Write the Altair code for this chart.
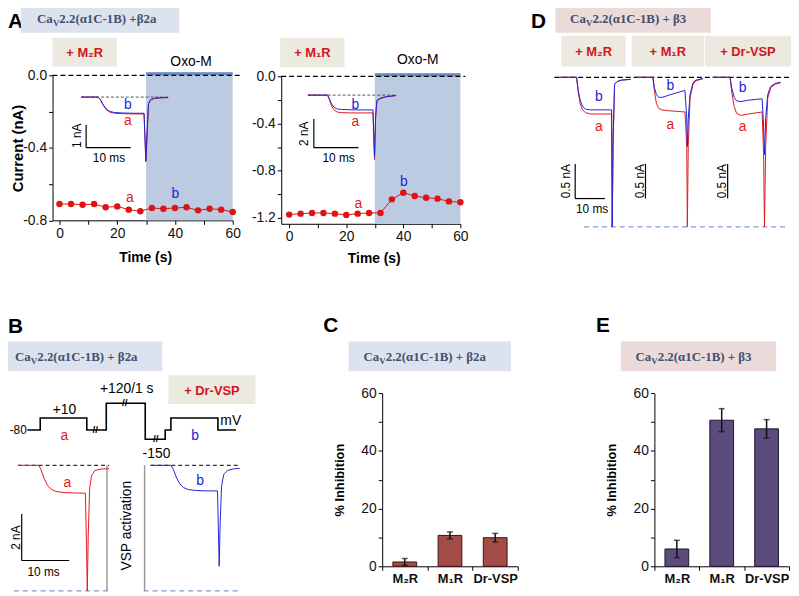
import altair as alt
import pandas as pd

# ---------------- data ----------------
# Panel A: peak current (nA) every 4 s; Oxo-M applied from 30 s to 60 s
time_s = [0, 4, 8, 12, 16, 20, 24, 28, 32, 36, 40, 44, 48, 52, 56, 60]
cur_m2r = [-0.710, -0.710, -0.714, -0.710, -0.728, -0.723, -0.741, -0.750,
           -0.732, -0.736, -0.732, -0.728, -0.745, -0.736, -0.741, -0.754]
cur_m1r = [-1.172, -1.164, -1.158, -1.158, -1.164, -1.175, -1.164, -1.158,
           -1.158, -1.043, -0.987, -1.015, -1.029, -1.037, -1.060, -1.068]
oxo_window = [30, 60]

# Panel A insets: current traces (ms, nA)
insL_t = [0, 3.8, 4.3, 4.9, 5.6, 6.4, 7.5, 9.5, 12, 14.1, 14.3, 14.5, 14.8, 15.1, 15.6, 16.5, 18, 19.5]
insL_a = [0, 0, -0.12, -0.35, -0.55, -0.66, -0.71, -0.73, -0.74, -0.74, -1.8, -2.85, -1.6, -0.3, -0.12, -0.05, -0.03, -0.02]
insL_b = [0, 0, -0.11, -0.33, -0.52, -0.63, -0.68, -0.70, -0.71, -0.71, -1.7, -2.80, -1.5, -0.28, -0.11, -0.05, -0.03, -0.02]
insR_t = [0, 4.4, 4.8, 5.3, 5.9, 6.6, 7.5, 9.5, 12, 14.6, 14.8, 14.95, 15.2, 15.5, 16.2, 17.5, 19.8]
insR_a = [0, 0, -0.30, -0.75, -1.05, -1.18, -1.22, -1.24, -1.24, -1.24, -3.2, -4.50, -1.5, -0.40, -0.25, -0.12, -0.03]
insR_b = [0, 0, -0.25, -0.62, -0.86, -0.97, -1.00, -1.02, -1.03, -1.03, -3.0, -4.30, -1.4, -0.36, -0.22, -0.11, -0.03]

# Panel B: voltage protocol (schematic ms, mV) and traces (ms, nA)
protocol_t = [2.0, 4.7, 4.7, 14.5, 14.5, 18.6, 18.6, 26.8, 26.8, 31.0, 31.0, 32.2, 32.2, 42.1, 42.1, 45.9]
protocol_mv = [-80, -80, 10, 10, -80, -80, 120, 120, -150, -150, -80, -80, 10, 10, -80, -80]
break_t = [16.3, 22.5, 29.0]
break_mv = [-80, 120, -150]
trB_ta = [0, 4.4, 4.9, 5.5, 6.2, 7.0, 8.0, 9.5, 12, 14.2, 14.45, 14.6, 14.8, 15.1, 15.5, 16.2, 17.5, 19.2]
trB_a = [0, 0, -0.2, -0.55, -0.85, -1.03, -1.12, -1.17, -1.19, -1.2, -3.5, -5.4, -3.0, -1.0, -0.45, -0.22, -0.16, -0.14]
trB_tb = [0, 4.3, 4.8, 5.4, 6.1, 6.9, 7.9, 9.5, 12, 14.1, 14.3, 14.45, 14.65, 14.95, 15.4, 16.2, 17.5, 18.75]
trB_b = [0, 0, -0.18, -0.5, -0.78, -0.95, -1.04, -1.08, -1.1, -1.1, -3.0, -4.34, -2.5, -0.9, -0.4, -0.22, -0.15, -0.13]
clip_B = -5.4

# Panel D traces (ms, nA)
trD1_t = [0, 5.8, 6.3, 7.0, 7.8, 8.8, 10.5, 13, 17.6, 17.8, 18.1, 18.6, 19.5, 21, 24]
trD1_a = [0, 0, -0.2, -0.38, -0.47, -0.51, -0.53, -0.53, -0.53, -2.16, -0.9, -0.1, -0.06, -0.04, -0.03]
trD1_b = [0, 0, -0.17, -0.33, -0.42, -0.46, -0.47, -0.47, -0.47, -2.16, -0.9, -0.1, -0.06, -0.04, -0.03]
trD2_t = [0, 5.5, 6.0, 6.7, 7.5, 8.5, 10, 13, 16.3, 16.9, 17.1, 17.4, 18, 19, 20, 22.3]
trD2_a = [0, 0, -0.2, -0.38, -0.45, -0.47, -0.48, -0.49, -0.5, -1.0, -2.16, -1.0, -0.3, -0.1, -0.05, -0.02]
trD2_b = [0, 0, -0.15, -0.25, -0.29, -0.29, -0.27, -0.23, -0.19, -0.6, -1.0, -0.6, -0.25, -0.08, -0.04, -0.02]
trD3_t = [0, 5.8, 6.4, 7.2, 8.0, 9.5, 12, 16.6, 17.1, 17.4, 17.8, 18.5, 19.5, 21, 22.8]
trD3_a = [0, 0, -0.22, -0.42, -0.52, -0.55, -0.53, -0.5, -1.1, -2.16, -1.0, -0.3, -0.15, -0.1, -0.08]
trD3_b = [0, 0, -0.16, -0.29, -0.34, -0.35, -0.33, -0.31, -0.7, -1.12, -0.6, -0.25, -0.13, -0.09, -0.07]
clip_D = -2.16

# Panels C and E: % inhibition (mean, error)
receptors = ["M\u2082R", "M\u2081R", "Dr-VSP"]
inhib_b2a = [1.5, 10.7, 9.9]
err_b2a = [1.2, 1.2, 1.5]
inhib_b3 = [6.0, 50.6, 47.6]
err_b3 = [3.0, 4.0, 3.2]

# ---------------- layout helpers ----------------
OFF = 8
W, H = 791, 588
SANS = "Liberation Sans, Arial, Helvetica, DejaVu Sans, sans-serif"
SERIF = "Liberation Serif, Times New Roman, DejaVu Serif, serif"
RED = "#e3191f"
BLUE = "#2222d6"
DOT = "#dd1414"
HDR_BLUE = "#dce3ee"
HDR_PINK = "#eadada"
BEIGE = "#ece9e1"
HDR_TXT = "#45506e"
BOX_TXT = "#d0151b"
SHADE = "#bccae2"
SHADE_TOP = "#6a8cc0"
DASH_BLUE = "#7f9fcc"

layers = []


def X(v):
    return v - OFF


def Y(v):
    return v - OFF


def lin(d0, d1, p0, p1, axis="x"):
    f = X if axis == "x" else Y
    return alt.Scale(domain=[d0, d1], range=[f(p0), f(p1)], zero=False, nice=False)


def text(s, x, y, size=14, color="black", weight="normal", font=SANS,
         align="center", baseline="middle", angle=0):
    layers.append(alt.Chart(pd.DataFrame({"s": [s]})).mark_text(
        fontSize=size, color=color, fontWeight=weight, font=font, align=align,
        baseline=baseline, angle=angle).encode(
        x=alt.value(X(x)), y=alt.value(Y(y)), text="s:N"))


def letter(s, x, ybase, align="center"):
    text(s, x, ybase, size=21, weight="bold", align=align, baseline="alphabetic")


def box(x0, y0, x1, y1, color):
    layers.append(alt.Chart(pd.DataFrame({"k": [0]})).mark_rect(color=color).encode(
        x=alt.value(X(x0)), x2=alt.value(X(x1)), y=alt.value(Y(y0)), y2=alt.value(Y(y1))))


def label_box(x0, y0, x1, y1, s):
    box(x0, y0, x1, y1, BEIGE)
    text(s, (x0 + x1) / 2, (y0 + y1) / 2 + 1, size=13, color=BOX_TXT, weight="bold")


def header(x0, x1, ytop, rest, bg):
    box(x0, ytop, x1, ytop + 30, bg)
    w_ca, w_v = 16.0, 6.5
    w_rest = 6.55 * len(rest)
    start = (x0 + x1) / 2 - (w_ca + w_v + w_rest) / 2
    kw = dict(color=HDR_TXT, weight="bold", font=SERIF, align="left", baseline="alphabetic")
    text("Ca", start, ytop + 20, size=13, **kw)
    text("V", start + w_ca, ytop + 23, size=9, **kw)
    text(rest, start + w_ca + w_v, ytop + 20, size=13, **kw)


def line(t, v, xsc, ysc, color, width=1.0):
    df = pd.DataFrame({"t": t, "v": v, "o": list(range(len(t)))})
    layers.append(alt.Chart(df).mark_line(color=color, strokeWidth=width).encode(
        x=alt.X("t:Q", scale=xsc, axis=None), y=alt.Y("v:Q", scale=ysc, axis=None),
        order="o:Q"))


def segs(rows, xsc, ysc, color="black", width=1.0, dash=None):
    df = pd.DataFrame(rows, columns=["x", "x2", "y", "y2"])
    kw = dict(color=color, strokeWidth=width)
    if dash:
        kw["strokeDash"] = dash
    layers.append(alt.Chart(df).mark_rule(**kw).encode(
        x=alt.X("x:Q", scale=xsc, axis=None), x2="x2:Q",
        y=alt.Y("y:Q", scale=ysc, axis=None), y2="y2:Q"))


def hdash(ysc, x0, x1, value=0.0, color="black", dash=(5, 3), width=1.2):
    df = pd.DataFrame({"v": [value]})
    layers.append(alt.Chart(df).mark_rule(color=color, strokeDash=list(dash), strokeWidth=width).encode(
        x=alt.value(X(x0)), x2=alt.value(X(x1)), y=alt.Y("v:Q", scale=ysc, axis=None)))


def vrule(x, y0, y1, color="#9a9a9a", width=1.5):
    layers.append(alt.Chart(pd.DataFrame({"k": [0]})).mark_rule(color=color, strokeWidth=width).encode(
        x=alt.value(X(x)), y=alt.value(Y(y0)), y2=alt.value(Y(y1))))


def scalebar(xsc, ysc, t0, i0, dt, di, width=1.2):
    rows = [[t0, t0, i0, i0 + di]]
    if dt:
        rows.append([t0, t0 + dt, i0, i0])
    segs(rows, xsc, ysc, width=width)


def xaxis(ypix, values, every):
    return alt.Axis(orient="bottom", offset=Y(ypix) - H, values=values,
                    labelExpr=f"datum.value % {every} == 0 ? datum.label : ''", title=None)


def yaxis_nA(xpix, values, majors):
    maj = ",".join(str(round(m * 10)) for m in majors)
    expr = (f"indexof([{maj}], round(datum.value * 10)) >= 0 ? "
            "(datum.value == 0 ? '0.0' : '-' + format(abs(datum.value), '.1f')) : ''")
    return alt.Axis(orient="left", offset=-X(xpix), values=values, labelExpr=expr, title=None)


def shade(xsc, ysc, lo):
    df = pd.DataFrame({"start": [oxo_window[0]], "end": [oxo_window[1]], "lo": [lo], "hi": [0.0]})
    layers.append(alt.Chart(df).mark_rect(color=SHADE, y2Offset=-3).encode(
        x=alt.X("start:Q", scale=xsc, axis=None), x2="end:Q",
        y=alt.Y("lo:Q", scale=ysc, axis=None), y2="hi:Q"))
    layers.append(alt.Chart(df).mark_rect(color=SHADE_TOP, y2Offset=-3).encode(
        x=alt.X("start:Q", scale=xsc, axis=None), x2="end:Q",
        y=alt.Y("hi:Q", scale=ysc, axis=None), y2="hi:Q"))


def series(t, v, xsc, ysc, xax, yax):
    df = pd.DataFrame({"time": t, "current": v})
    layers.append(alt.Chart(df).mark_line(color=DOT, strokeWidth=1).encode(
        x=alt.X("time:Q", scale=xsc, axis=None), y=alt.Y("current:Q", scale=ysc, axis=None)))
    layers.append(alt.Chart(df).mark_circle(color=DOT, size=42, opacity=1).encode(
        x=alt.X("time:Q", scale=xsc, axis=xax), y=alt.Y("current:Q", scale=ysc, axis=yax)))


def bars(vals, errs, x0, x1, fill, stroke):
    df = pd.DataFrame({"rec": receptors, "val": vals, "base": [0] * len(vals),
                       "lo": [v - e for v, e in zip(vals, errs)],
                       "hi": [v + e for v, e in zip(vals, errs)]})
    xsc = alt.Scale(domain=receptors, range=[X(x0), X(x1)], paddingInner=0, paddingOuter=0)
    ysc = lin(0, 60, 569, 394, "y")
    xax = alt.Axis(orient="bottom", offset=Y(569) - H, tickBand="extent", labelFontWeight="bold",
                   labelFontSize=13, labelAngle=0, labelPadding=2, title=None)
    yax = alt.Axis(orient="left", offset=-X(x0), values=list(range(0, 61, 10)),
                   labelExpr="datum.value % 20 == 0 ? datum.label : ''", title=None)
    layers.append(alt.Chart(df).mark_bar(size=24, color=fill, stroke=stroke, strokeWidth=1).encode(
        x=alt.X("rec:N", scale=xsc, axis=xax), y=alt.Y("val:Q", scale=ysc, axis=yax), y2="base:Q"))
    layers.append(alt.Chart(df).mark_rule(color="#111", strokeWidth=1.5).encode(
        x=alt.X("rec:N", scale=xsc, axis=None), y=alt.Y("lo:Q", scale=ysc, axis=None), y2="hi:Q"))
    for f in ["lo", "hi"]:
        layers.append(alt.Chart(df).mark_tick(color="#111", size=6, thickness=1.5).encode(
            x=alt.X("rec:N", scale=xsc, axis=None), y=alt.Y(f + ":Q", scale=ysc, axis=None)))


# ---------------- Panel A ----------------
letter("A", 8, 25, align="left")
header(21, 181, 0, "2.2(\u03b11C-1B) +\u03b22a", HDR_BLUE)

# left: + M2R
label_box(53, 35, 118, 64, "+ M\u2082R")
xA1 = lin(-2.4, 60, 53, 235)
yA1 = lin(-0.8, 0, 219.5, 73, "y")
shade(xA1, yA1, -0.8)
hdash(yA1, 53, 245)
series(time_s, cur_m2r, xA1, yA1, xaxis(219.5, list(range(0, 61, 10)), 20),
       yaxis_nA(53, [-0.8, -0.6, -0.4, -0.2, 0.0], [-0.8, -0.4, 0.0]))
text("Oxo-M", 193, 60)
text("Time (s)", 147, 258, weight="bold")
text("Current (nA)", 18, 147, size=15, weight="bold", angle=270)
text("a", 131, 197, color=RED)
text("b", 177, 193, color=BLUE)
xIL = lin(0, 20, 82, 172)
yIL = lin(-3, 0, 164, 95, "y")
segs([[insL_t[0], insL_t[-1], 0, 0]], xIL, yIL, color="#555", dash=[3, 2])
line(insL_t, insL_a, xIL, yIL, RED)
line(insL_t, insL_b, xIL, yIL, BLUE)
scalebar(xIL, yIL, 1.1, -2.22, 10, 1)
text("1 nA", 78, 134, size=12, angle=270)
text("10 ms", 110, 157, size=12)
text("b", 129, 103, color=BLUE)
text("a", 129, 119, color=RED)

# right: + M1R
label_box(283, 35, 348, 65, "+ M\u2081R")
xA2 = lin(-2.8, 60, 284, 465)
yA2 = lin(-1.25, 0, 223, 74, "y")
shade(xA2, yA2, -1.25)
hdash(yA2, 284, 470)
series(time_s, cur_m1r, xA2, yA2, xaxis(223, list(range(0, 61, 10)), 20),
       yaxis_nA(284, [-1.2, -1.0, -0.8, -0.6, -0.4, -0.2, 0.0], [-1.2, -0.8, -0.4, 0.0]))
text("Oxo-M", 422, 58)
text("Time (s)", 378, 259, weight="bold")
text("a", 362, 203, color=RED)
text("b", 408, 181, color=BLUE)
xIR = lin(0, 20, 311, 401)
yIR = lin(-5, 0, 165.5, 93, "y")
segs([[insR_t[0], insR_t[-1], 0, 0]], xIR, yIR, color="#555", dash=[3, 2])
line(insR_t, insR_a, xIR, yIR, RED)
line(insR_t, insR_b, xIR, yIR, BLUE)
scalebar(xIR, yIR, 1.33, -3.66, 10, 2)
text("2 nA", 307, 132, size=12, angle=270)
text("10 ms", 342, 157, size=12)
text("b", 359, 103, color=BLUE)
text("a", 359, 120, color=RED)

# ---------------- Panel D ----------------
letter("D", 544, 25)
header(561, 718, 0, "2.2(\u03b11C-1B) + \u03b23", HDR_PINK)
label_box(567, 33, 632, 64, "+ M\u2082R")
label_box(638, 33, 711, 64, "+ M\u2081R")
label_box(712, 33, 799, 64, "+ Dr-VSP")
yD = lin(-2.2, 0, 229, 75, "y")
hdash(yD, 560, 797, 0.0)
hdash(yD, 590, 797, clip_D, color=DASH_BLUE, dash=(5, 4), width=1.3)
for (tt, aa, bb, o) in [(trD1_t, trD1_a, trD1_b, 565), (trD2_t, trD2_a, trD2_b, 643),
                        (trD3_t, trD3_a, trD3_b, 720)]:
    xsc = lin(0, 25, o, o + 75)
    line(tt, aa, xsc, yD, RED)
    line(tt, bb, xsc, yD, BLUE)
scalebar(lin(0, 25, 565, 640), yD, 5.33, -1.75, 10, 0.5)
scalebar(lin(0, 25, 643, 718), yD, 3.0, -1.75, 0, 0.5)
scalebar(lin(0, 25, 720, 795), yD, 5.0, -1.75, 0, 0.5)
for xt in [572, 646, 729]:
    text("0.5 nA", xt, 180, size=12, angle=270)
text("10 ms", 598, 208, size=12)
text("b", 605, 95, color=BLUE)
text("a", 605, 125, color=RED)
text("b", 677, 84, color=BLUE)
text("a", 677, 123, color=RED)
text("b", 750, 86, color=BLUE)
text("a", 750, 125, color=RED)

# ---------------- Panel B ----------------
letter("B", 8, 333, align="left")
header(0, 164, 342, "2.2(\u03b11C-1B) + \u03b22a", HDR_BLUE)
label_box(170, 376, 258, 405, "+ Dr-VSP")
xP = lin(0, 50, 18, 258)
yP = lin(-150, 120, 440.7, 404.3, "y")
line(protocol_t, protocol_mv, xP, yP, "black", width=1.6)
layers.append(alt.Chart(pd.DataFrame({"t": break_t, "mv": break_mv, "s": ["//"] * 3})).mark_text(
    fontSize=10, fontWeight="bold", font=SANS, color="black").encode(
    x=alt.X("t:Q", scale=xP, axis=None), y=alt.Y("mv:Q", scale=yP, axis=None), text="s:N"))
text("-80", 27, 431, size=12, align="right")
text("+10", 65, 411)
text("+120/1 s", 128, 390)
text("a", 65, 437, color=RED)
text("b", 197, 437, color=BLUE)
text("mV", 233, 422)
text("-150", 158, 456)
xBa = lin(0, 20, 18, 114)
xBb = lin(0, 20, 152, 248)
yB = lin(-5.4, 0, 593.9, 467, "y")
segs([[trB_ta[0], trB_ta[-1], 0, 0]], xBa, yB, color="#333", dash=[4, 3], width=1.2)
segs([[trB_tb[0], trB_tb[-1], 0, 0]], xBb, yB, color="#333", dash=[4, 3], width=1.2)
hdash(yB, 14, 110, clip_B, color=DASH_BLUE, dash=(5, 4), width=1.3)
hdash(yB, 145, 242, clip_B, color=DASH_BLUE, dash=(5, 4), width=1.3)
vrule(108, 467, 594)
vrule(146, 467, 594)
line(trB_ta, trB_a, xBa, yB, RED)
line(trB_tb, trB_b, xBb, yB, BLUE)
scalebar(xBa, yB, 0.8, -4.09, 10, 2)
text("2 nA", 16, 540, size=12, angle=270)
text("10 ms", 44, 575, size=12)
text("a", 68, 485, color=RED)
text("b", 202, 483, color=BLUE)
text("VSP activation", 128, 528, angle=270)

# ---------------- Panel C ----------------
letter("C", 334, 332)
header(352, 516, 342, "2.2(\u03b11C-1B) + \u03b22a", HDR_BLUE)
bars(inhib_b2a, err_b2a, 386, 523, "#a34c48", "#3a1412")
text("% Inhibition", 343, 482, size=13, weight="bold", angle=270)

# ---------------- Panel E ----------------
letter("E", 609, 332)
header(627, 784, 342, "2.2(\u03b11C-1B) + \u03b23", HDR_PINK)
bars(inhib_b3, err_b3, 661, 797, "#5c4b7d", "#1e1632")
text("% Inhibition", 618, 482, size=13, weight="bold", angle=270)

chart = alt.layer(*layers).resolve_scale(
    x="independent", y="independent"
).properties(
    width=W, height=H, autosize="none", padding=0
).configure_view(stroke=None).configure_axis(
    labelFont=SANS, labelFontSize=14, labelColor="#111", domainColor="black",
    tickColor="black", tickSize=4, grid=False, labelOverlap=False, labelFlush=False,
    domainWidth=1, tickWidth=1, labelPadding=2
)

chart.save("out.html", embed_options={"renderer": "svg", "actions": False})
